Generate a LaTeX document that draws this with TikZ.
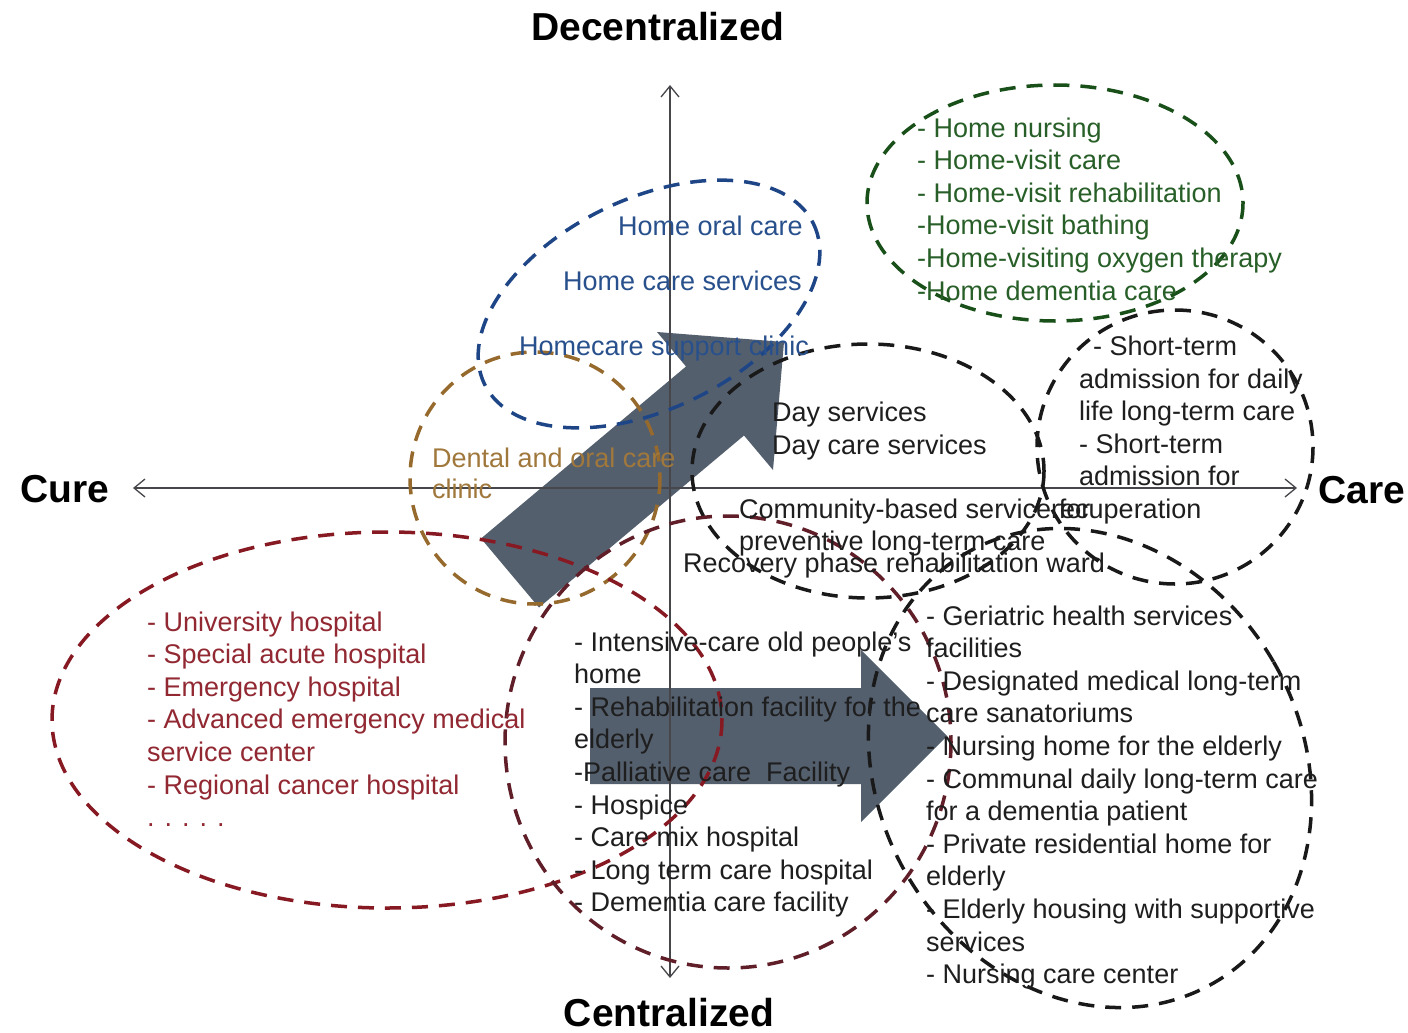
\documentclass[tikz,border=0pt]{standalone}
\usepackage{fontspec}
\setmainfont{Liberation Sans}
\usetikzlibrary{arrows.meta}
\definecolor{arrowc}{RGB}{84,95,110}
\definecolor{axisc}{RGB}{70,70,75}
\definecolor{bluee}{RGB}{30,70,135}
\definecolor{bluet}{RGB}{40,80,140}
\definecolor{greene}{RGB}{25,80,25}
\definecolor{greent}{RGB}{40,95,40}
\definecolor{browne}{RGB}{150,105,45}
\definecolor{brownt}{RGB}{160,120,60}
\definecolor{rede}{RGB}{135,25,35}
\definecolor{redt}{RGB}{145,40,50}
\definecolor{maroone}{RGB}{95,30,40}
\definecolor{blacke}{RGB}{25,25,25}
\definecolor{blackt}{RGB}{30,30,30}
\begin{document}
\begin{tikzpicture}[x=1pt,y=-1pt,
  ell/.style={line width=3.5pt, dash pattern=on 16pt off 11pt},
  txt/.style={anchor=base west, inner sep=0pt, font=\fontsize{27}{32}\selectfont},
  ttl/.style={inner sep=0pt, font=\fontsize{39}{44}\selectfont\bfseries, text=black},
  axisline/.style={line width=1.3pt, draw=axisc, {Straight Barb[length=11pt,width=18pt]}-{Straight Barb[length=11pt,width=18pt]}},
  blockarrow/.style={fill=arrowc, draw=none}]

\useasboundingbox (0,0) rectangle (1408,1033);
\fill[white] (0,0) rectangle (1408,1033);

% block arrows
\fill[blockarrow] (481,538.5) -- (686,366.5) -- (657,332) -- (784,342) -- (773,470) -- (744,435.5) -- (539,607.5) -- cycle;
\fill[blockarrow] (590,688) -- (861,688) -- (861,650) -- (947,736) -- (861,822) -- (861,784) -- (590,784) -- cycle;

% axes
\coordinate (ytop) at (670,85);
\coordinate (ybot) at (670,978);
\coordinate (xleft) at (133,488);
\coordinate (xright) at (1297,488);
\draw[axisline] (ybot) -- (ytop);
\draw[axisline] (xleft) -- (xright);

% ellipses
\draw[ell, draw=bluee, rotate around={26:(649,304)}] (649,304) ellipse [x radius=183, y radius=105];
\draw[ell, draw=greene] (1055,203) ellipse [x radius=188, y radius=118];
\draw[ell, draw=browne] (535,478) ellipse [x radius=125, y radius=126];
\draw[ell, draw=blacke] (868,471) ellipse [x radius=176, y radius=127];
\draw[ell, draw=blacke] (1175,447) ellipse [x radius=138, y radius=137];
\draw[ell, draw=rede] (387,720) ellipse [x radius=335, y radius=188];
\draw[ell, draw=maroone] (728,742) ellipse [x radius=223, y radius=226];
\draw[ell, draw=blacke, rotate around={30:(1090,768)}] (1090,768) ellipse [x radius=212, y radius=248];

% titles
\node[ttl, anchor=base] (dec) at (658,41) {Decentralized};
\node[ttl, anchor=base] (cen) at (669,1026) {Centralized};
\node[ttl, anchor=base west] (cure) at (20,502) {Cure};
\node[ttl, anchor=base west] (care) at (1318,503) {Care};

% blue
\node[txt, text=bluet] (b1) at (618,235) {Home oral care};
\node[txt, text=bluet] (b2) at (563,290) {Home care services};
\node[txt, text=bluet] (b3) at (519,355) {Homecare support clinic};

% green
\foreach \t [count=\i] in {{- Home nursing},{- Home-visit care},{- Home-visit rehabilitation},{-Home-visit bathing},{-Home-visiting oxygen therapy},{-Home dementia care}}
  \node[txt, text=greent] (g\i) at (917,{137+32.6*(\i-1)}) {\t};

% brown
\node[txt, text=brownt] (d1) at (432,467) {Dental and oral care};
\node[txt, text=brownt] (d2) at (432,498) {clinic};

% center
\node[txt, text=blackt] (c1) at (772,421) {Day services};
\node[txt, text=blackt] (c2) at (772,454) {Day care services};
\node[txt, text=blackt] (c3) at (739,518) {Community-based service for};
\node[txt, text=blackt] (c4) at (739,550) {preventive long-term care};
\node[txt, text=blackt] (c5) at (683,572) {Recovery phase rehabilitation ward};

% right
\node[txt, text=blackt] (s1) at (1093,355) {- Short-term};
\foreach \t [count=\i] in {{admission for daily},{life long-term care},{- Short-term},{admission for}}
  \node[txt, text=blackt] (s\i x) at (1079,{388+32.6*(\i-1)}) {\t};
\node[txt, text=blackt] (s6) at (1051,518) {recuperation};

% red
\foreach \t [count=\i] in {{- University hospital},{- Special acute hospital},{- Emergency hospital},{- Advanced emergency medical},{service center},{- Regional cancer hospital},{. . . . .}}
  \node[txt, text=redt] (r\i) at (147,{631+32.6*(\i-1)}) {\t};

% middle
\foreach \t [count=\i] in {{- Intensive-care old people's},{home},{- Rehabilitation facility for the},{elderly},{-Palliative care\ \ Facility},{- Hospice},{- Care mix hospital},{- Long term care hospital},{- Dementia care facility}}
  \node[txt, text=blackt] (m\i) at (574,{651+32.6*(\i-1)}) {\t};

% right bottom
\foreach \t [count=\i] in {{- Geriatric health services},{facilities},{- Designated medical long-term},{care sanatoriums},{- Nursing home for the elderly},{- Communal daily long-term care},{for a dementia patient},{- Private residential home for},{elderly},{- Elderly housing with supportive},{services},{- Nursing care center}}
  \node[txt, text=blackt] (n\i) at (926,{625+32.6*(\i-1)}) {\t};
\end{tikzpicture}
\end{document}
